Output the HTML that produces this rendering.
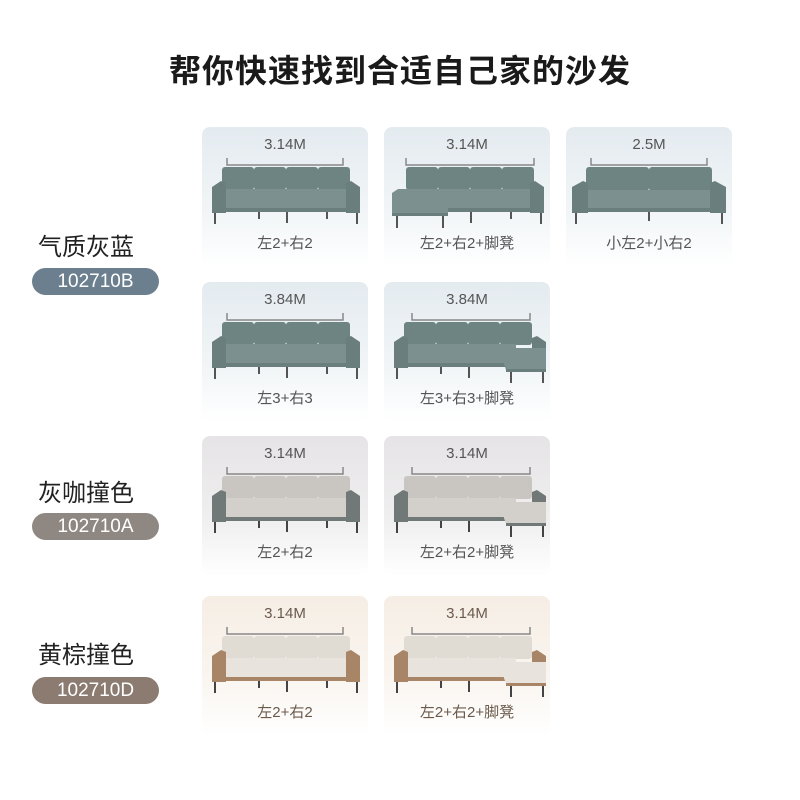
<!DOCTYPE html>
<html><head><meta charset="utf-8"><style>
body{margin:0;width:800px;height:800px;background:#fff;position:relative;font-family:"Liberation Sans","Noto Sans CJK SC",sans-serif;overflow:hidden}
h1{position:absolute;top:46px;left:0;width:800px;text-align:center;margin:0;font-size:32px;font-weight:bold;color:#1a1a1a;letter-spacing:1px;font-family:"Noto Sans CJK SC",sans-serif}
.name{position:absolute;left:38px;font-size:24px;color:#222;font-family:"Noto Sans CJK SC",sans-serif}
.pill{position:absolute;left:32px;width:127px;height:27px;border-radius:14px;color:#fff;font-size:19px;text-align:center;line-height:27px}
.card{position:absolute;width:166px;height:140px;border-radius:8px;overflow:hidden}
.blue{background:linear-gradient(#e4ebf0,#f1f5f7 60%,#fff);--b:#6e8483;--d:#5a6e6d;--s:#7b908f;--a:#6a7e7d;--l:#555}
.grey{background:linear-gradient(#e6e4e6,#f0eff0 60%,#fff);--b:#c9c6c2;--d:#b5b2ae;--s:#d3d0cc;--a:#707878;--l:#444}
.beige{background:linear-gradient(#f6eee5,#faf5f0 60%,#fff);--b:#e0dbd3;--d:#cdc7bf;--s:#e8e3dc;--a:#a88566;--l:#444}
.card svg{position:absolute;left:0;top:0}
.dim{position:absolute;top:9px;width:166px;text-align:center;font-size:15px;color:#555}
.lab{position:absolute;top:105px;width:166px;text-align:center;font-size:15px;color:#555}
.beige .lab,.beige .dim{color:#6b5a4c}
</style></head><body>
<svg width="0" height="0" style="position:absolute">
<defs>
<symbol id="st" viewBox="0 0 166 140">
<path d="M25 31v7h116v-7" fill="none" stroke="#888" stroke-width="1.5"/>
<rect x="20" y="40" width="32" height="23" rx="3" style="fill:var(--b)"/><rect x="52" y="40" width="32" height="23" rx="3" style="fill:var(--b)"/><rect x="84" y="40" width="32" height="23" rx="3" style="fill:var(--b)"/><rect x="116" y="40" width="32" height="23" rx="3" style="fill:var(--b)"/>
<rect x="20" y="62" width="128" height="20" rx="2" style="fill:var(--s)"/>
<rect x="20" y="81" width="128" height="4" style="fill:var(--a)"/>
<path d="M10 60l9-6 5 2v30h-14z" style="fill:var(--a)"/><path d="M158 60l-9-6-5 2v30h14z" style="fill:var(--a)"/>
<rect x="12" y="86" width="2" height="11" style="fill:var(--l)"/><rect x="154" y="86" width="2" height="11" style="fill:var(--l)"/><rect x="56" y="85" width="2" height="7" style="fill:var(--l)"/><rect x="84" y="85" width="2" height="11" style="fill:var(--l)"/><rect x="124" y="85" width="2" height="7" style="fill:var(--l)"/>
</symbol>
<symbol id="cl" viewBox="0 0 166 140">
<path d="M22 31v7h128v-7" fill="none" stroke="#888" stroke-width="1.5"/>
<rect x="22" y="40" width="32" height="23" rx="3" style="fill:var(--b)"/><rect x="54" y="40" width="32" height="23" rx="3" style="fill:var(--b)"/><rect x="86" y="40" width="32" height="23" rx="3" style="fill:var(--b)"/><rect x="118" y="40" width="32" height="23" rx="3" style="fill:var(--b)"/>
<rect x="22" y="62" width="128" height="20" rx="2" style="fill:var(--s)"/>
<rect x="22" y="81" width="128" height="4" style="fill:var(--a)"/>
<path d="M160 60l-9-6-5 2v30h14z" style="fill:var(--a)"/>
<path d="M8 66l6-4h46l4 2v24h-56z" style="fill:var(--s)"/><rect x="8" y="86" width="56" height="3" style="fill:var(--a)"/>
<rect x="12" y="89" width="2" height="12" style="fill:var(--l)"/><rect x="58" y="89" width="2" height="12" style="fill:var(--l)"/><rect x="86" y="85" width="2" height="11" style="fill:var(--l)"/><rect x="156" y="86" width="2" height="11" style="fill:var(--l)"/><rect x="126" y="85" width="2" height="7" style="fill:var(--l)"/>
</symbol>
<symbol id="cr" viewBox="0 0 166 140">
<path d="M28 31v7h118v-7" fill="none" stroke="#888" stroke-width="1.5"/>
<rect x="20" y="40" width="32" height="23" rx="3" style="fill:var(--b)"/><rect x="52" y="40" width="32" height="23" rx="3" style="fill:var(--b)"/><rect x="84" y="40" width="32" height="23" rx="3" style="fill:var(--b)"/><rect x="116" y="40" width="32" height="23" rx="3" style="fill:var(--b)"/>
<rect x="20" y="62" width="112" height="20" rx="2" style="fill:var(--s)"/>
<rect x="20" y="81" width="112" height="4" style="fill:var(--a)"/>
<path d="M10 60l9-6 5 2v30h-14z" style="fill:var(--a)"/><path d="M162 60l-9-6-5 2v10h14z" style="fill:var(--a)"/>
<path d="M118 66h44v22h-40l-4-12z" style="fill:var(--s)"/><rect x="122" y="87" width="40" height="3" style="fill:var(--a)"/>
<rect x="12" y="86" width="2" height="11" style="fill:var(--l)"/><rect x="84" y="85" width="2" height="11" style="fill:var(--l)"/><rect x="56" y="85" width="2" height="7" style="fill:var(--l)"/><rect x="126" y="90" width="2" height="11" style="fill:var(--l)"/><rect x="158" y="90" width="2" height="11" style="fill:var(--l)"/>
</symbol>
<symbol id="tw" viewBox="0 0 166 140">
<path d="M25 31v7h116v-7" fill="none" stroke="#888" stroke-width="1.5"/>
<rect x="20" y="40" width="63" height="24" rx="3" style="fill:var(--b)"/><rect x="83" y="40" width="63" height="24" rx="3" style="fill:var(--b)"/>
<rect x="20" y="63" width="126" height="19" rx="2" style="fill:var(--s)"/><rect x="20" y="81" width="126" height="4" style="fill:var(--a)"/>
<path d="M6 60l11-6 5 2v30h-16z" style="fill:var(--a)"/><path d="M160 60l-11-6-5 2v30h16z" style="fill:var(--a)"/>
<rect x="9" y="86" width="2" height="11" style="fill:var(--l)"/><rect x="155" y="86" width="2" height="11" style="fill:var(--l)"/><rect x="82" y="85" width="2" height="9" style="fill:var(--l)"/>
</symbol>
</defs></svg>

<h1>帮你快速找到合适自己家的沙发</h1>

<div class="name" style="top:227px">气质灰蓝</div>
<div class="pill" style="top:268px;background:#6b7f8f">102710B</div>
<div class="name" style="top:473px">灰咖撞色</div>
<div class="pill" style="top:513px;background:#8f8882">102710A</div>
<div class="name" style="top:635px">黄棕撞色</div>
<div class="pill" style="top:677px;background:#8b7b71">102710D</div>

<div class="card blue" style="left:202px;top:127px"><svg width="166" height="140"><use href="#st"/></svg><div class="dim">3.14M</div><div class="lab">左2+右2</div></div>
<div class="card blue" style="left:384px;top:127px"><svg width="166" height="140"><use href="#cl"/></svg><div class="dim">3.14M</div><div class="lab">左2+右2+脚凳</div></div>
<div class="card blue" style="left:566px;top:127px"><svg width="166" height="140"><use href="#tw"/></svg><div class="dim">2.5M</div><div class="lab">小左2+小右2</div></div>

<div class="card blue" style="left:202px;top:282px"><svg width="166" height="140"><use href="#st"/></svg><div class="dim">3.84M</div><div class="lab">左3+右3</div></div>
<div class="card blue" style="left:384px;top:282px"><svg width="166" height="140"><use href="#cr"/></svg><div class="dim">3.84M</div><div class="lab">左3+右3+脚凳</div></div>

<div class="card grey" style="left:202px;top:436px"><svg width="166" height="140"><use href="#st"/></svg><div class="dim">3.14M</div><div class="lab">左2+右2</div></div>
<div class="card grey" style="left:384px;top:436px"><svg width="166" height="140"><use href="#cr"/></svg><div class="dim">3.14M</div><div class="lab">左2+右2+脚凳</div></div>

<div class="card beige" style="left:202px;top:596px"><svg width="166" height="140"><use href="#st"/></svg><div class="dim">3.14M</div><div class="lab">左2+右2</div></div>
<div class="card beige" style="left:384px;top:596px"><svg width="166" height="140"><use href="#cr"/></svg><div class="dim">3.14M</div><div class="lab">左2+右2+脚凳</div></div>
</body></html>
